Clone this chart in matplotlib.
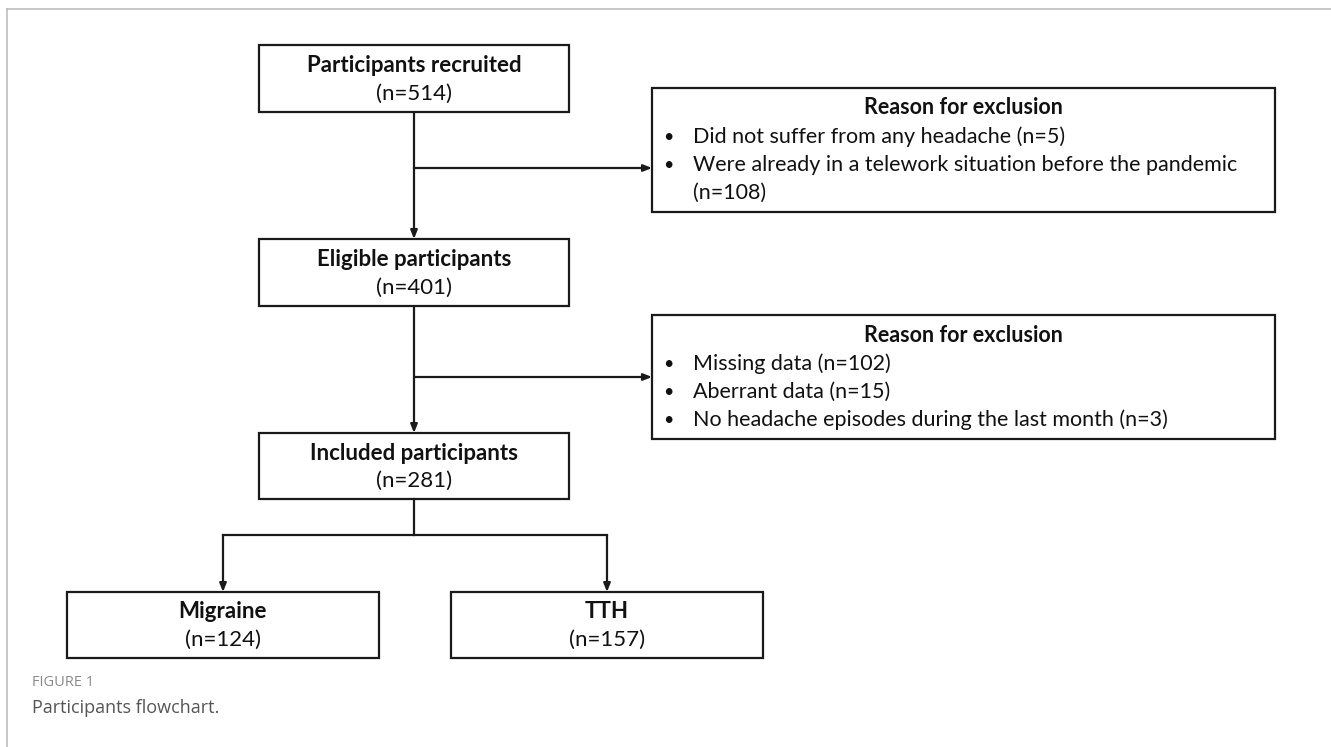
import matplotlib
matplotlib.use('Agg')
import matplotlib.pyplot as plt
from matplotlib.patches import Rectangle

# flow boxes: title, n
main_titles = ['Participants recruited', 'Eligible participants', 'Included participants']
main_counts = [514, 401, 281]
group_titles = ['Migraine', 'TTH']
group_counts = [124, 157]

excl_title = 'Reason for exclusion'
# each item is a list of lines (second line is a wrap, no bullet)
excl1_items = [['Did not suffer from any headache (n=5)'],
               ['Were already in a telework situation before the pandemic', '(n=108)']]
excl2_items = [['Missing data (n=102)'], ['Aberrant data (n=15)'],
               ['No headache episodes during the last month (n=3)']]

fig_label = 'FIGURE 1'
caption = 'Participants flowchart.'

W, H = 1331, 747
fig = plt.figure(figsize=(W / 100, H / 100), dpi=100)
ax = fig.add_axes([0, 0, 1, 1])
ax.set_xlim(0, W)
ax.set_ylim(H, 0)
ax.axis('off')

FONT = ['Lato', 'DejaVu Sans']
lw = 1.6
col = '#1a1a1a'
tcol = '#111111'

# page frame
ax.plot([7, W], [9, 9], color='#bdbdbd', lw=1.2)
ax.plot([7, 7], [9, H], color='#bdbdbd', lw=1.2)


def box(x0, y0, x1, y1):
    ax.add_patch(Rectangle((x0, y0), x1 - x0, y1 - y0, fill=False,
                           edgecolor=col, lw=lw, zorder=3))


def arrow(x0, y0, x1, y1):
    ax.annotate('', xy=(x1, y1), xytext=(x0, y0),
                arrowprops=dict(arrowstyle='-|>,head_length=0.5,head_width=0.2',
                                color=col, lw=lw, shrinkA=0, shrinkB=0))


def main_box(x0, y0, x1, y1, title, n):
    box(x0, y0, x1, y1)
    cx = (x0 + x1) / 2
    cy = (y0 + y1) / 2
    ax.text(cx, cy - 13, title, ha='center', va='center', fontsize=16,
            fontweight='bold', family=FONT, color=tcol)
    ax.text(cx, cy + 15, '(n=%d)' % n, ha='center', va='center', fontsize=16,
            family=FONT, color=tcol)


mx0, mx1 = 259, 569
mcx = (mx0 + mx1) / 2
main_y = [(45, 112), (239, 306), (433, 499)]
for (y0, y1), t, n in zip(main_y, main_titles, main_counts):
    main_box(mx0, y0, mx1, y1, t, n)

# exclusion boxes
ex0, ex1 = 652, 1275
excl_y = [(88, 212), (315, 439)]
arrow_y = [168, 377]
for (y0, y1), items in zip(excl_y, [excl1_items, excl2_items]):
    box(ex0, y0, ex1, y1)
    ax.text((ex0 + ex1) / 2, y0 + 20, excl_title, ha='center', va='center',
            fontsize=15.5, fontweight='bold', family=FONT, color=tcol)
    yy = y0 + 49
    for lines in items:
        ax.text(ex0 + 16, yy, '\u2022', ha='center', va='center', fontsize=13,
                family=FONT, color=tcol)
        for ln in lines:
            ax.text(ex0 + 41, yy, ln, ha='left', va='center', fontsize=15.5,
                    family=FONT, color=tcol)
            yy += 28

# vertical arrows between main boxes, with side branches
for i in range(2):
    arrow(mcx, main_y[i][1], mcx, main_y[i + 1][0])
    arrow(mcx, arrow_y[i], ex0, arrow_y[i])

# split to groups
gx = [(67, 379), (451, 763)]
gy = (592, 658)
split_y = 535
ax.plot([mcx, mcx], [main_y[2][1], split_y], color=col, lw=lw)
gc = [(a + b) / 2 for a, b in gx]
ax.plot([gc[0], gc[1]], [split_y, split_y], color=col, lw=lw)
for (x0, x1), c, t, n in zip(gx, gc, group_titles, group_counts):
    arrow(c, split_y, c, gy[0])
    main_box(x0, gy[0], x1, gy[1], t, n)

# caption
ax.text(32, 682, fig_label, ha='left', va='center', fontsize=10.5,
        family=['Open Sans', 'DejaVu Sans'], color='#8a8a8a')
ax.text(32, 708, caption, ha='left', va='center', fontsize=13,
        family=['Open Sans', 'DejaVu Sans'], color='#555555')

fig.savefig('out.png', dpi=100)
